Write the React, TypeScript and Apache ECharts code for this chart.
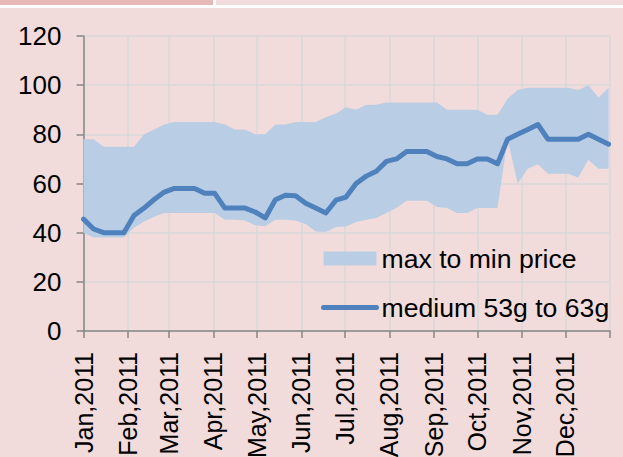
import React, { useEffect, useRef } from "react";
import * as echarts from "echarts";

const monthLabels = [
  "Jan,2011", "Feb,2011", "Mar,2011", "Apr,2011", "May,2011", "Jun,2011",
  "Jul,2011", "Aug,2011", "Sep,2011", "Oct,2011", "Nov,2011", "Dec,2011",
];
const monthStartDays = [0, 31, 59, 90, 120, 151, 181, 212, 243, 273, 304, 334, 365];

const weekDays = [
  0, 7, 14, 21, 28, 35, 42, 49, 56, 63, 70, 77, 84, 91, 98, 105, 112, 119, 126, 133,
  140, 147, 154, 161, 168, 175, 182, 189, 196, 203, 210, 217, 224, 231, 238, 245, 252,
  259, 266, 273, 280, 287, 294, 301, 308, 315, 322, 329, 336, 343, 350, 357, 364,
];

const maxPrice = [
  78, 78, 75, 75, 75, 75, 80, 82, 84, 85, 85, 85, 85, 85, 84, 82, 82, 80, 80, 84, 84, 85, 85, 85,
  87, 88.5, 91, 90, 92, 92, 93, 93, 93, 93, 93, 93, 90, 90, 90, 90, 88, 88, 94.5, 98, 99, 99, 99,
  99, 99, 98, 100, 95, 99,
];
const minPrice = [
  40, 38, 38, 38, 38, 42, 44.5, 46.5, 48, 48, 48, 48, 48, 48, 45.3, 45.3, 45, 43, 42.6, 45.3, 45.3,
  45, 43.5, 40.5, 40.3, 42.3, 42.5, 44.3, 45.3, 46, 48, 50, 53, 53, 53, 50.4, 50, 48, 48, 50, 50,
  50, 78, 60, 66, 67.8, 64, 64, 64, 62.4, 69.7, 66, 66,
];
const medium = [
  45.5, 41.5, 40, 40, 40, 47, 50, 53.5, 56.5, 58, 58, 58, 56, 56, 50, 50, 50, 48.4, 46, 53.4, 55.2,
  55, 52, 50, 48, 53.2, 54.5, 60, 63, 65, 69, 70, 73, 73, 73, 71, 70, 68, 68, 70, 70, 68, 78, 80,
  82, 84, 78, 78, 78, 78, 80, 78, 76,
];

const yTicks = { min: 0, max: 120, interval: 20 };

const FONT = "'Liberation Sans', Arial, sans-serif";
const BAND = "#b9cde5";
const LINE = "#4f81bd";

export default function App() {
  const ref = useRef<HTMLDivElement>(null);
  useEffect(() => {
    if (!ref.current) return;
    const chart = echarts.init(ref.current, undefined, { renderer: "svg" });
    const option: any = {
      animation: false,
      backgroundColor: "#f2dcdb",
      textStyle: { fontFamily: FONT },
      grid: {
        left: 83.5,
        right: 13,
        top: 36,
        bottom: 126,
        containLabel: false,
        outerBoundsMode: "none",
      },
      legend: {
        orient: "vertical",
        left: 321,
        top: 245,
        padding: 0,
        itemWidth: 53,
        itemHeight: 14,
        itemGap: 22,
        textStyle: { fontSize: 26.6, color: "#000", fontFamily: FONT, lineHeight: 26 },
        data: [
          { name: "max to min price", icon: "rect", itemStyle: { color: BAND } },
          {
            name: "medium 53g to 63g",
            itemStyle: { opacity: 0 },
            lineStyle: { width: 5, color: LINE, cap: "round" },
          },
        ],
      },
      xAxis: {
        type: "value",
        min: monthStartDays[0],
        max: monthStartDays[12],
        axisLine: { show: true, lineStyle: { color: "#868686", width: 1.5 } },
        axisTick: {
          show: true,
          length: 7,
          lineStyle: { color: "#868686", width: 1.5 },
          customValues: monthStartDays,
        },
        splitLine: {
          show: true,
          lineStyle: { color: "#d9d9d9", width: 1.5 },
          customValues: monthStartDays,
        },
        axisLabel: {
          rotate: 90,
          margin: 21,
          fontSize: 25,
          color: "#000",
          fontFamily: FONT,
          customValues: monthStartDays.slice(0, 12),
          formatter: (v: number) => {
            const i = monthStartDays.indexOf(Math.round(v));
            return i >= 0 && i < monthLabels.length ? monthLabels[i] : "";
          },
        },
      },
      yAxis: {
        type: "value",
        min: yTicks.min,
        max: yTicks.max,
        interval: yTicks.interval,
        axisLine: { show: true, lineStyle: { color: "#868686", width: 1.5 } },
        axisTick: { show: true, length: 7, lineStyle: { color: "#868686", width: 1.5 } },
        splitLine: { show: true, lineStyle: { color: "#d9d9d9", width: 1.5 } },
        axisLabel: { margin: 22, fontSize: 26, color: "#000", fontFamily: FONT },
      },
      series: [
        {
          name: "max to min price",
          type: "custom",
          silent: true,
          itemStyle: { color: BAND },
          encode: { x: 0, y: 1 },
          data: weekDays.map((d, i) => [d, minPrice[i], maxPrice[i]]),
          renderItem: (params: any, api: any) => {
            if (params.dataIndex !== 0) return null;
            const upper = weekDays.map((d, i) => api.coord([d, maxPrice[i]]));
            const lower = weekDays.map((d, i) => api.coord([d, minPrice[i]])).reverse();
            return {
              type: "polygon",
              shape: { points: upper.concat(lower) },
              style: { fill: BAND, stroke: null },
            };
          },
        },
        {
          name: "medium 53g to 63g",
          type: "line",
          symbol: "none",
          showSymbol: false,
          z: 5,
          itemStyle: { color: LINE },
          lineStyle: { color: LINE, width: 5, join: "round", cap: "round" },
          data: weekDays.map((d, i) => [d, medium[i]]),
        },
      ],
      graphic: [
        { type: "rect", left: 0, top: 0, shape: { width: 213, height: 5 }, style: { fill: "#e6b9b8" }, z: 10 },
        { type: "rect", left: 0, top: 5, shape: { width: 623, height: 3 }, style: { fill: "#ffffff" }, z: 10 },
        { type: "rect", left: 213, top: 0, shape: { width: 3, height: 5 }, style: { fill: "#ffffff" }, z: 10 },
      ],
    };
    chart.setOption(option);
    return () => chart.dispose();
  }, []);
  return (
    <div
      ref={ref}
      style={{ position: "fixed", left: 0, top: 0, width: 623, height: 457 }}
    />
  );
}
